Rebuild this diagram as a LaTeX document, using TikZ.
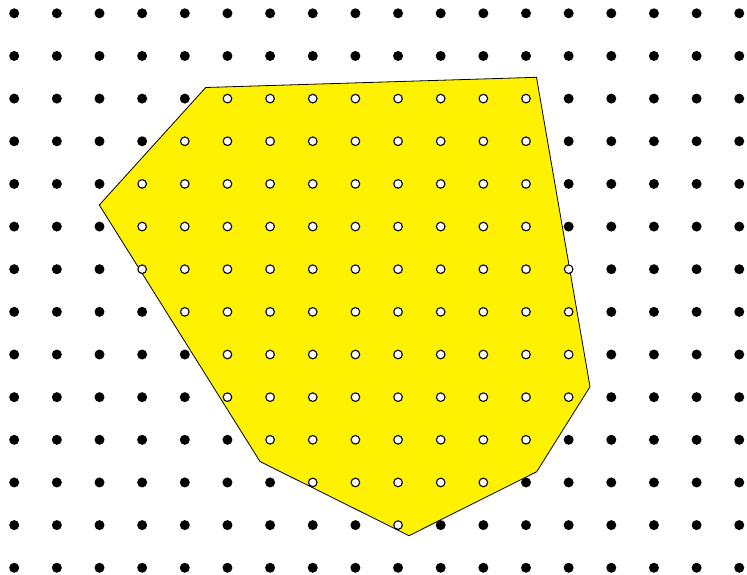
\documentclass[tikz,border=0pt]{standalone}
\begin{document}
\begin{tikzpicture}[x=1pt,y=-1pt,
  blackdot/.style={fill=black},
  whitedot/.style={fill=white,draw=black,line width=1.1pt},
  region/.style={fill=yellow,draw=black,line width=0.8pt}]
\useasboundingbox (0,0) rectangle (747,574);
\draw[region] (205.7,87.5) -- (536.5,77.3) -- (590,386.7) -- (536.7,471.7)
  -- (409,535.7) -- (260,461.5) -- (99.3,205) -- cycle;
\foreach \j/\a/\b in {0/99/-1,1/99/-1,2/5/12,3/4/12,4/3/12,5/3/12,6/3/13,
  7/4/13,8/5/13,9/5/13,10/6/12,11/7/11,12/9/9,13/99/-1} {
  \foreach \i in {0,...,17} {
    \pgfmathsetmacro{\px}{14.2+42.65*\i}
    \pgfmathsetmacro{\py}{13.3+42.65*\j}
    \ifnum\i<\a
      \fill[blackdot] (\px,\py) circle (5);
    \else\ifnum\i>\b
      \fill[blackdot] (\px,\py) circle (5);
    \else
      \draw[whitedot] (\px,\py) circle (4.3);
    \fi\fi
  }
}
\end{tikzpicture}
\end{document}
